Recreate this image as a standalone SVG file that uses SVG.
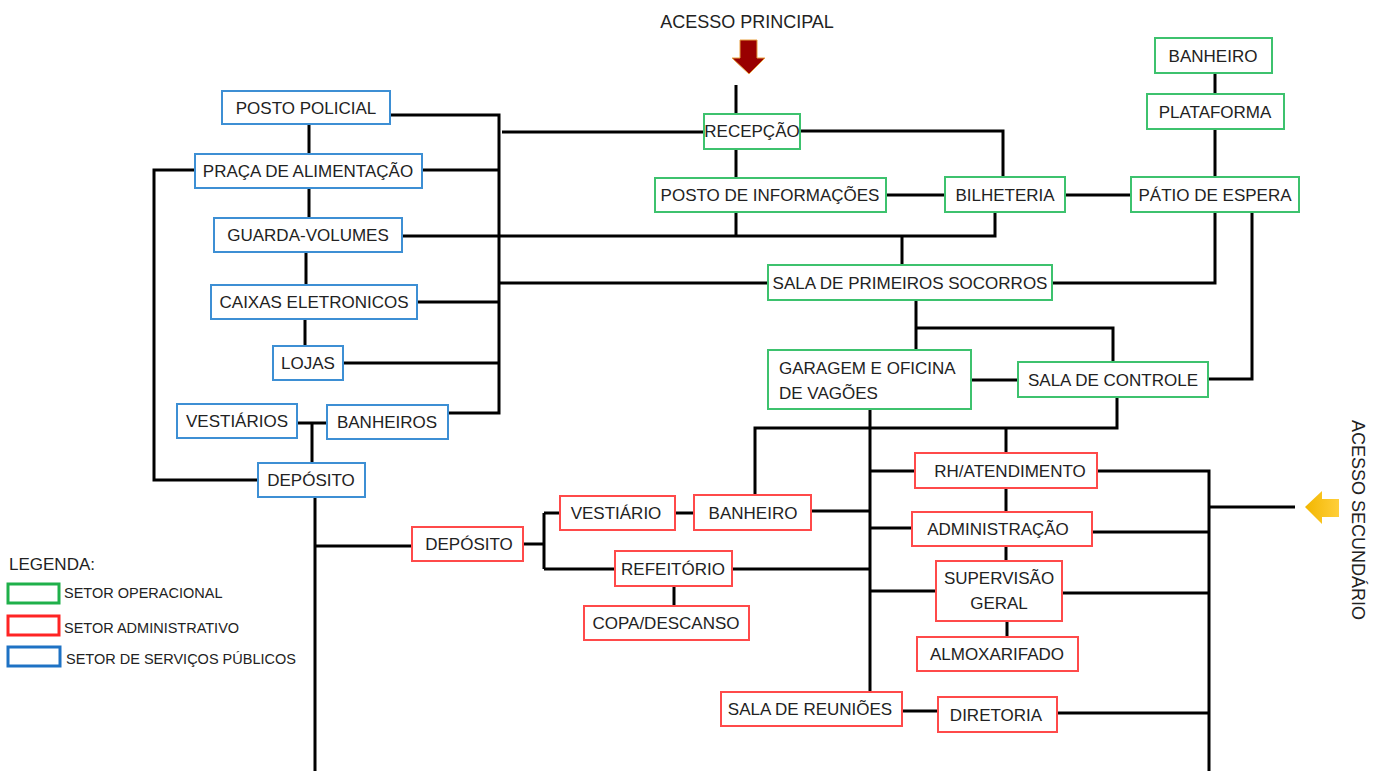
<svg xmlns="http://www.w3.org/2000/svg" width="1381" height="771" viewBox="0 0 1381 771">
<style>
text{font-family:"Liberation Sans",Arial,sans-serif;fill:#222;}
.t{font-size:17px;text-anchor:middle;}
.tl{font-size:17px;}
.big{font-size:18px;text-anchor:middle;}
.leg{font-size:14.5px;}
.g rect{fill:#fff;stroke:#3DC26E;stroke-width:2;}
.r rect{fill:#fff;stroke:#FF4A4A;stroke-width:2;}
.b rect{fill:#fff;stroke:#3D8FD4;stroke-width:2;}
#connectors path{fill:none;stroke:#000;stroke-width:3;}
</style>
<defs>
<linearGradient id="yel" x1="0" y1="0" x2="1" y2="0">
<stop offset="0" stop-color="#F2B600"/>
<stop offset="1" stop-color="#FFCF3A"/>
</linearGradient>
</defs>
<rect width="1381" height="771" fill="#fff"/>

<g id="connectors">
<path d="M309,124V154M309,188V218M306,252V285M305,319V346"/>
<path d="M195,170H154V480H258"/>
<path d="M297,423H327M312,423V463"/>
<path d="M390,115H499V413H448"/>
<path d="M422,170H499M417,302H499M343,363H499"/>
<path d="M402,236H995V212"/>
<path d="M502,132H704"/>
<path d="M499,283H768"/>
<path d="M736,85V114M736,149V178M736,212V236"/>
<path d="M800,131H1003V177"/>
<path d="M886,195H945M1065,195H1131"/>
<path d="M1215,73V94M1215,129V177"/>
<path d="M1215,212V283H1052"/>
<path d="M1252,212V379H1208"/>
<path d="M902,236V265"/>
<path d="M916,300V350M916,328H1113V362"/>
<path d="M971,380H1018"/>
<path d="M1117,397V428H755V495"/>
<path d="M1006,428V453"/>
<path d="M870,409V691"/>
<path d="M870,471H915M870,528H912M870,591H936"/>
<path d="M811,511H870M732,569H870"/>
<path d="M1006,488V512M1006,546V561M1007,621V637"/>
<path d="M1097,471H1209V771M1092,532H1209M1062,593H1209M1057,713H1209"/>
<path d="M1209,507H1295"/>
<path d="M902,711H938"/>
<path d="M315,497V771M315,546H412"/>
<path d="M523,544H544M544,513V569M544,513H560M544,569H615"/>
<path d="M675,513H694"/>
<path d="M674,586V606"/>
</g>

<g id="acesso-principal">
<text class="big" x="747" y="28">ACESSO PRINCIPAL</text>
<polygon points="740,40 757,40 757,58 765,58 749,74 732,58 740,58" fill="#990000" stroke="#E8A040" stroke-width="1"/>
</g>
<g id="acesso-secundario">
<text class="big" transform="translate(1352,520) rotate(90)">ACESSO SECUNDÁRIO</text>
<polygon points="1339,499 1322,499 1322,491 1305,507 1322,524 1322,517 1339,517" fill="url(#yel)"/>
</g>

<!-- blue nodes -->
<g id="posto-policial" class="b"><rect x="222" y="91" width="168" height="33"/><text class="t" x="306" y="114">POSTO POLICIAL</text></g>
<g id="praca-alimentacao" class="b"><rect x="195" y="154" width="227" height="34"/><text class="t" x="308" y="177">PRAÇA DE ALIMENTAÇÃO</text></g>
<g id="guarda-volumes" class="b"><rect x="214" y="218" width="188" height="34"/><text class="t" x="308" y="241">GUARDA-VOLUMES</text></g>
<g id="caixas" class="b"><rect x="211" y="285" width="206" height="34"/><text class="t" x="314" y="308">CAIXAS ELETRONICOS</text></g>
<g id="lojas" class="b"><rect x="273" y="346" width="70" height="34"/><text class="t" x="308" y="369">LOJAS</text></g>
<g id="vestiarios" class="b"><rect x="177" y="404" width="120" height="34"/><text class="t" x="237" y="427">VESTIÁRIOS</text></g>
<g id="banheiros" class="b"><rect x="327" y="405" width="121" height="34"/><text class="t" x="387" y="428">BANHEIROS</text></g>
<g id="deposito-pub" class="b"><rect x="258" y="463" width="107" height="34"/><text class="t" x="311" y="486">DEPÓSITO</text></g>

<!-- green nodes -->
<g id="recepcao" class="g"><rect x="704" y="114" width="96" height="35"/><text class="t" x="752" y="137">RECEPÇÃO</text></g>
<g id="posto-info" class="g"><rect x="655" y="178" width="231" height="34"/><text class="t" x="770" y="201">POSTO DE INFORMAÇÕES</text></g>
<g id="bilheteria" class="g"><rect x="945" y="177" width="120" height="35"/><text class="t" x="1005" y="201">BILHETERIA</text></g>
<g id="banheiro-op" class="g"><rect x="1155" y="38" width="117" height="35"/><text class="t" x="1213" y="62">BANHEIRO</text></g>
<g id="plataforma" class="g"><rect x="1147" y="94" width="137" height="35"/><text class="t" x="1215" y="118">PLATAFORMA</text></g>
<g id="patio" class="g"><rect x="1131" y="177" width="168" height="35"/><text class="t" x="1215" y="201">PÁTIO DE ESPERA</text></g>
<g id="primeiros-socorros" class="g"><rect x="768" y="265" width="284" height="35"/><text class="t" x="910" y="289">SALA DE PRIMEIROS SOCORROS</text></g>
<g id="garagem" class="g"><rect x="768" y="350" width="203" height="59"/><text class="tl" x="779" y="374">GARAGEM E OFICINA</text><text class="tl" x="779" y="399">DE VAGÕES</text></g>
<g id="sala-controle" class="g"><rect x="1018" y="362" width="190" height="35"/><text class="t" x="1113" y="386">SALA DE CONTROLE</text></g>

<!-- red nodes -->
<g id="deposito-adm" class="r"><rect x="412" y="527" width="111" height="34"/><text class="t" x="469" y="550">DEPÓSITO</text></g>
<g id="vestiario" class="r"><rect x="560" y="496" width="115" height="34"/><text class="t" x="616" y="519">VESTIÁRIO</text></g>
<g id="banheiro-adm" class="r"><rect x="694" y="495" width="117" height="35"/><text class="t" x="753" y="519">BANHEIRO</text></g>
<g id="refeitorio" class="r"><rect x="615" y="551" width="117" height="35"/><text class="t" x="673" y="575">REFEITÓRIO</text></g>
<g id="copa" class="r"><rect x="584" y="606" width="165" height="34"/><text class="t" x="666" y="629">COPA/DESCANSO</text></g>
<g id="rh" class="r"><rect x="915" y="453" width="182" height="35"/><text class="t" x="1010" y="477">RH/ATENDIMENTO</text></g>
<g id="administracao" class="r"><rect x="912" y="512" width="180" height="34"/><text class="t" x="998" y="535">ADMINISTRAÇÃO</text></g>
<g id="supervisao" class="r"><rect x="936" y="561" width="126" height="60"/><text class="t" x="999" y="584">SUPERVISÃO</text><text class="t" x="999" y="609">GERAL</text></g>
<g id="almoxarifado" class="r"><rect x="917" y="637" width="161" height="34"/><text class="t" x="997" y="660">ALMOXARIFADO</text></g>
<g id="sala-reunioes" class="r"><rect x="721" y="692" width="181" height="34"/><text class="t" x="810" y="715">SALA DE REUNIÕES</text></g>
<g id="diretoria" class="r"><rect x="938" y="697" width="119" height="35"/><text class="t" x="996" y="721">DIRETORIA</text></g>

<g id="legenda">
<text class="tl" x="9" y="570">LEGENDA:</text>
<rect x="8" y="584" width="51" height="19" fill="none" stroke="#1FB04A" stroke-width="3"/>
<text class="leg" x="64" y="598">SETOR OPERACIONAL</text>
<rect x="8" y="616" width="51" height="19" fill="none" stroke="#FF2424" stroke-width="3"/>
<text class="leg" x="64" y="633">SETOR ADMINISTRATIVO</text>
<rect x="8" y="647" width="52" height="19" fill="none" stroke="#1E72C4" stroke-width="3"/>
<text class="leg" x="66" y="664">SETOR DE SERVIÇOS PÚBLICOS</text>
</g>
</svg>
